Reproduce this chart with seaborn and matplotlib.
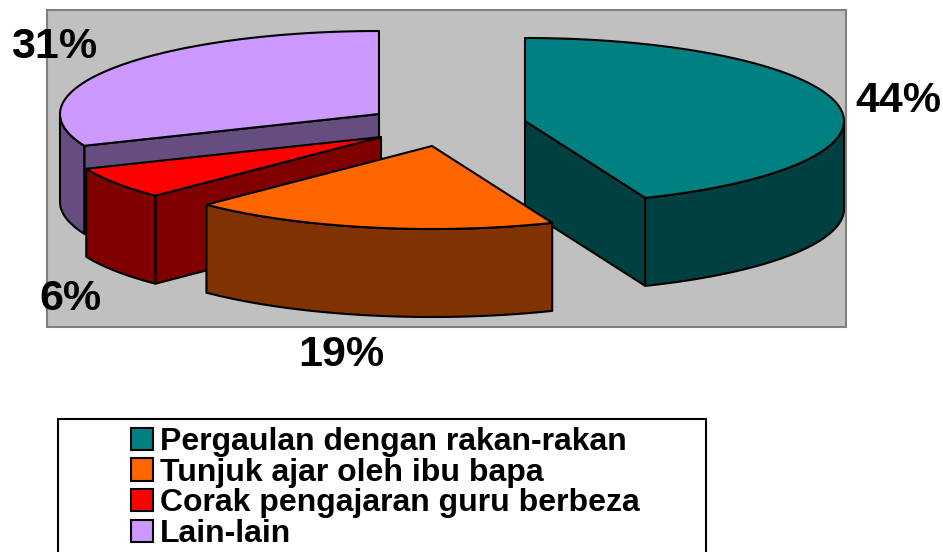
import matplotlib.pyplot as plt
import numpy as np
import seaborn as sns
from matplotlib.patches import Patch, Polygon, Rectangle

categories = ["Pergaulan dengan rakan-rakan", "Tunjuk ajar oleh ibu bapa",
              "Corak pengajaran guru berbeza", "Lain-lain"]
shares = [43.85, 18.65, 6.25, 31.25]
top_colors = ["#008080", "#FF6600", "#FF0000", "#CC99FF"]
side_colors = ["#004040", "#803300", "#800000", "#664D80"]

# layout in pixels, y downwards
centers = [(525, 121), (432, 146), (381, 137), (379, 114)]
label_pos = [(898, 101), (341, 355), (70, 299), (54, 47)]
RX, RY, DEPTH = 319, 83, 88
LW = 1.5

sns.set_theme(style="white")
plt.rcParams["font.family"] = ["Liberation Sans", "DejaVu Sans"]


def arc(cx, cy, a0, a1):
    t = np.radians(np.linspace(a0, a1, 100))
    return np.column_stack([cx + RX * np.sin(t), cy - RY * np.cos(t)])


def draw_slice(ax, center, a0, a1, top, side):
    cx, cy = center
    drop = np.array([0, DEPTH])

    def cut(angle):
        rim = arc(cx, cy, angle, angle)[:1]
        quad = np.vstack([[center], rim, rim + drop, [center + drop]])
        ax.add_patch(Polygon(quad, fc=side, ec="black", lw=LW, joinstyle="round"))

    if np.sin(np.radians(a0)) < -1e-6:
        cut(a0)
    if np.sin(np.radians(a1)) > 1e-6:
        cut(a1)
    w0, w1 = max(a0, 90), min(a1, 270)
    if w1 > w0:
        rim = arc(cx, cy, w0, w1)
        ax.add_patch(Polygon(np.vstack([rim, (rim + drop)[::-1]]), fc=side,
                             ec="black", lw=LW, joinstyle="round"))
    face = np.vstack([[center], arc(cx, cy, a0, a1)])
    ax.add_patch(Polygon(face, fc=top, ec="black", lw=LW, joinstyle="round"))


fig = plt.figure(figsize=(9.43, 5.52), dpi=100)
ax = fig.add_axes([0, 0, 1, 1])
ax.set_xlim(0, 943)
ax.set_ylim(552, 0)
ax.axis("off")

ax.add_patch(Rectangle((47, 10), 799, 317, fc="#C0C0C0", ec="#808080", lw=1.5))

angles = np.cumsum([0] + shares) / sum(shares) * 360
for i in [0, 3, 2, 1]:
    draw_slice(ax, centers[i], angles[i], angles[i + 1], top_colors[i], side_colors[i])

for share, (x, y) in zip(shares, label_pos):
    ax.text(x, y, f"{share:.0f}%", ha="center", va="center", fontsize=31,
            fontweight="bold", color="black")

ax.add_patch(Rectangle((58, 419), 648, 140, fc="white", ec="black", lw=1.5))
handles = [Patch(fc=c, ec="black", lw=LW) for c in top_colors]
ax.legend(handles, categories, loc="upper left", bbox_to_anchor=(131, 427),
          bbox_transform=ax.transData, frameon=False, borderpad=0, borderaxespad=0,
          prop={"size": 23, "weight": "bold"}, labelcolor="black",
          handlelength=0.69, handleheight=0.69, handletextpad=0.22, labelspacing=0.02)

fig.savefig("out.png", dpi=100)
